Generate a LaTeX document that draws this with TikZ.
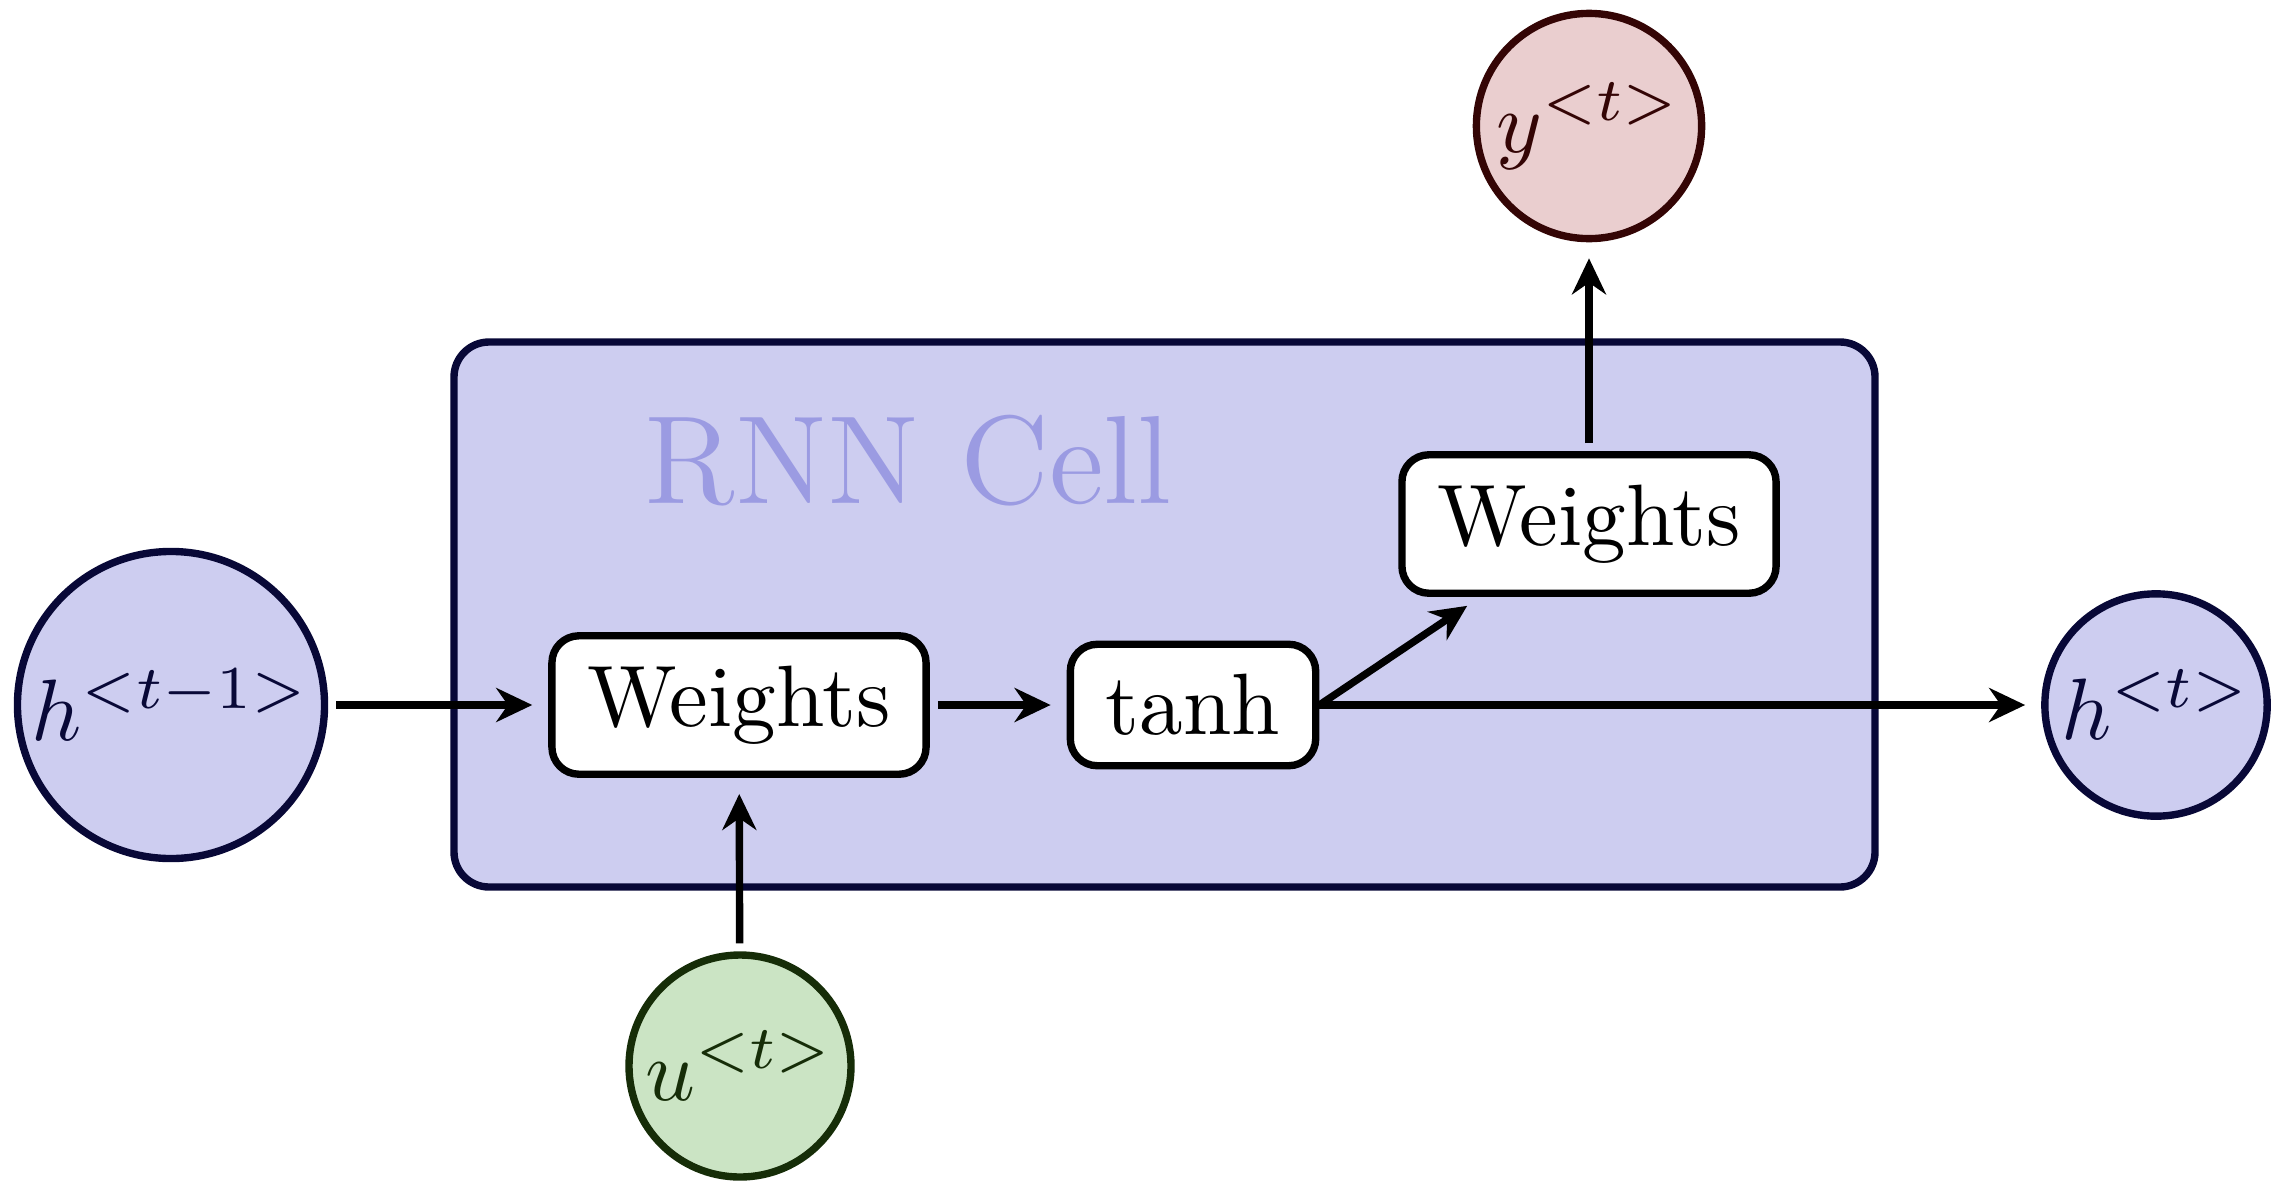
\documentclass[tikz,border=0pt]{standalone}
\usepackage{graphicx}
\usetikzlibrary{arrows.meta}
\definecolor{cellfill}{RGB}{205,205,240}
\definecolor{navy}{RGB}{8,8,55}
\definecolor{celltext}{RGB}{155,155,226}
\definecolor{pinkfill}{RGB}{234,206,207}
\definecolor{maroon}{RGB}{52,5,5}
\definecolor{greenfill}{RGB}{203,228,196}
\definecolor{dkgreen}{RGB}{22,45,8}
\newcommand{\sbx}[1]{\scalebox{2.48}{#1}}
\tikzset{
  lw/.style={line width=2.1pt},
  state/.style={circle, lw, inner sep=0.08cm},
  hstate/.style={state, draw=navy, fill=cellfill, text=navy},
  ystate/.style={state, draw=maroon, fill=pinkfill, text=maroon},
  ustate/.style={state, draw=dkgreen, fill=greenfill, text=dkgreen},
  opbox/.style={rectangle, rounded corners=0.27cm, draw=black, fill=white, lw, inner xsep=0.355cm, inner ysep=0.30cm},
  cellbox/.style={rounded corners=0.35cm, draw=navy, fill=cellfill, lw},
  conn/.style={lw, -{Stealth[length=0.36cm, width=0.34cm]}, shorten <=0.08cm, shorten >=0.16cm},
  connfree/.style={lw, -{Stealth[length=0.36cm, width=0.34cm]}, shorten >=0.16cm}
}
\begin{document}
\begin{tikzpicture}
\useasboundingbox (0,0) rectangle (22.75,11.85);
\draw[cellbox] (4.54,2.98) rectangle (18.75,8.43);
\node[anchor=base west, text=celltext, inner sep=0pt] (title) at (6.44,6.82) {\sbx{\Large RNN Cell}};
\node[hstate] (hprev) at (1.71,4.80) {\sbx{$h^{<t-1>}$}};
\node[opbox] (w1) at (7.39,4.80) {\sbx{Weights}};
\node[opbox] (tanh) at (11.93,4.80) {\sbx{tanh}};
\node[opbox] (w2) at (15.89,6.61) {\sbx{Weights}};
\node[hstate] (hnext) at (21.56,4.80) {\sbx{$h^{<t>}$}};
\node[ystate] (y) at (15.89,10.59) {\sbx{$y^{<t>}$}};
\node[ustate] (u) at (7.40,1.19) {\sbx{$u^{<t>}$}};
\coordinate (split) at (tanh.east);
\draw[conn] (hprev) -- (w1);
\draw[conn] (w1) -- (tanh);
\draw[conn] (u) -- (w1);
\draw[connfree] (split) -- (hnext);
\draw[connfree] (split) -- (w2);
\draw[conn] (w2) -- (y);
\end{tikzpicture}
\end{document}
